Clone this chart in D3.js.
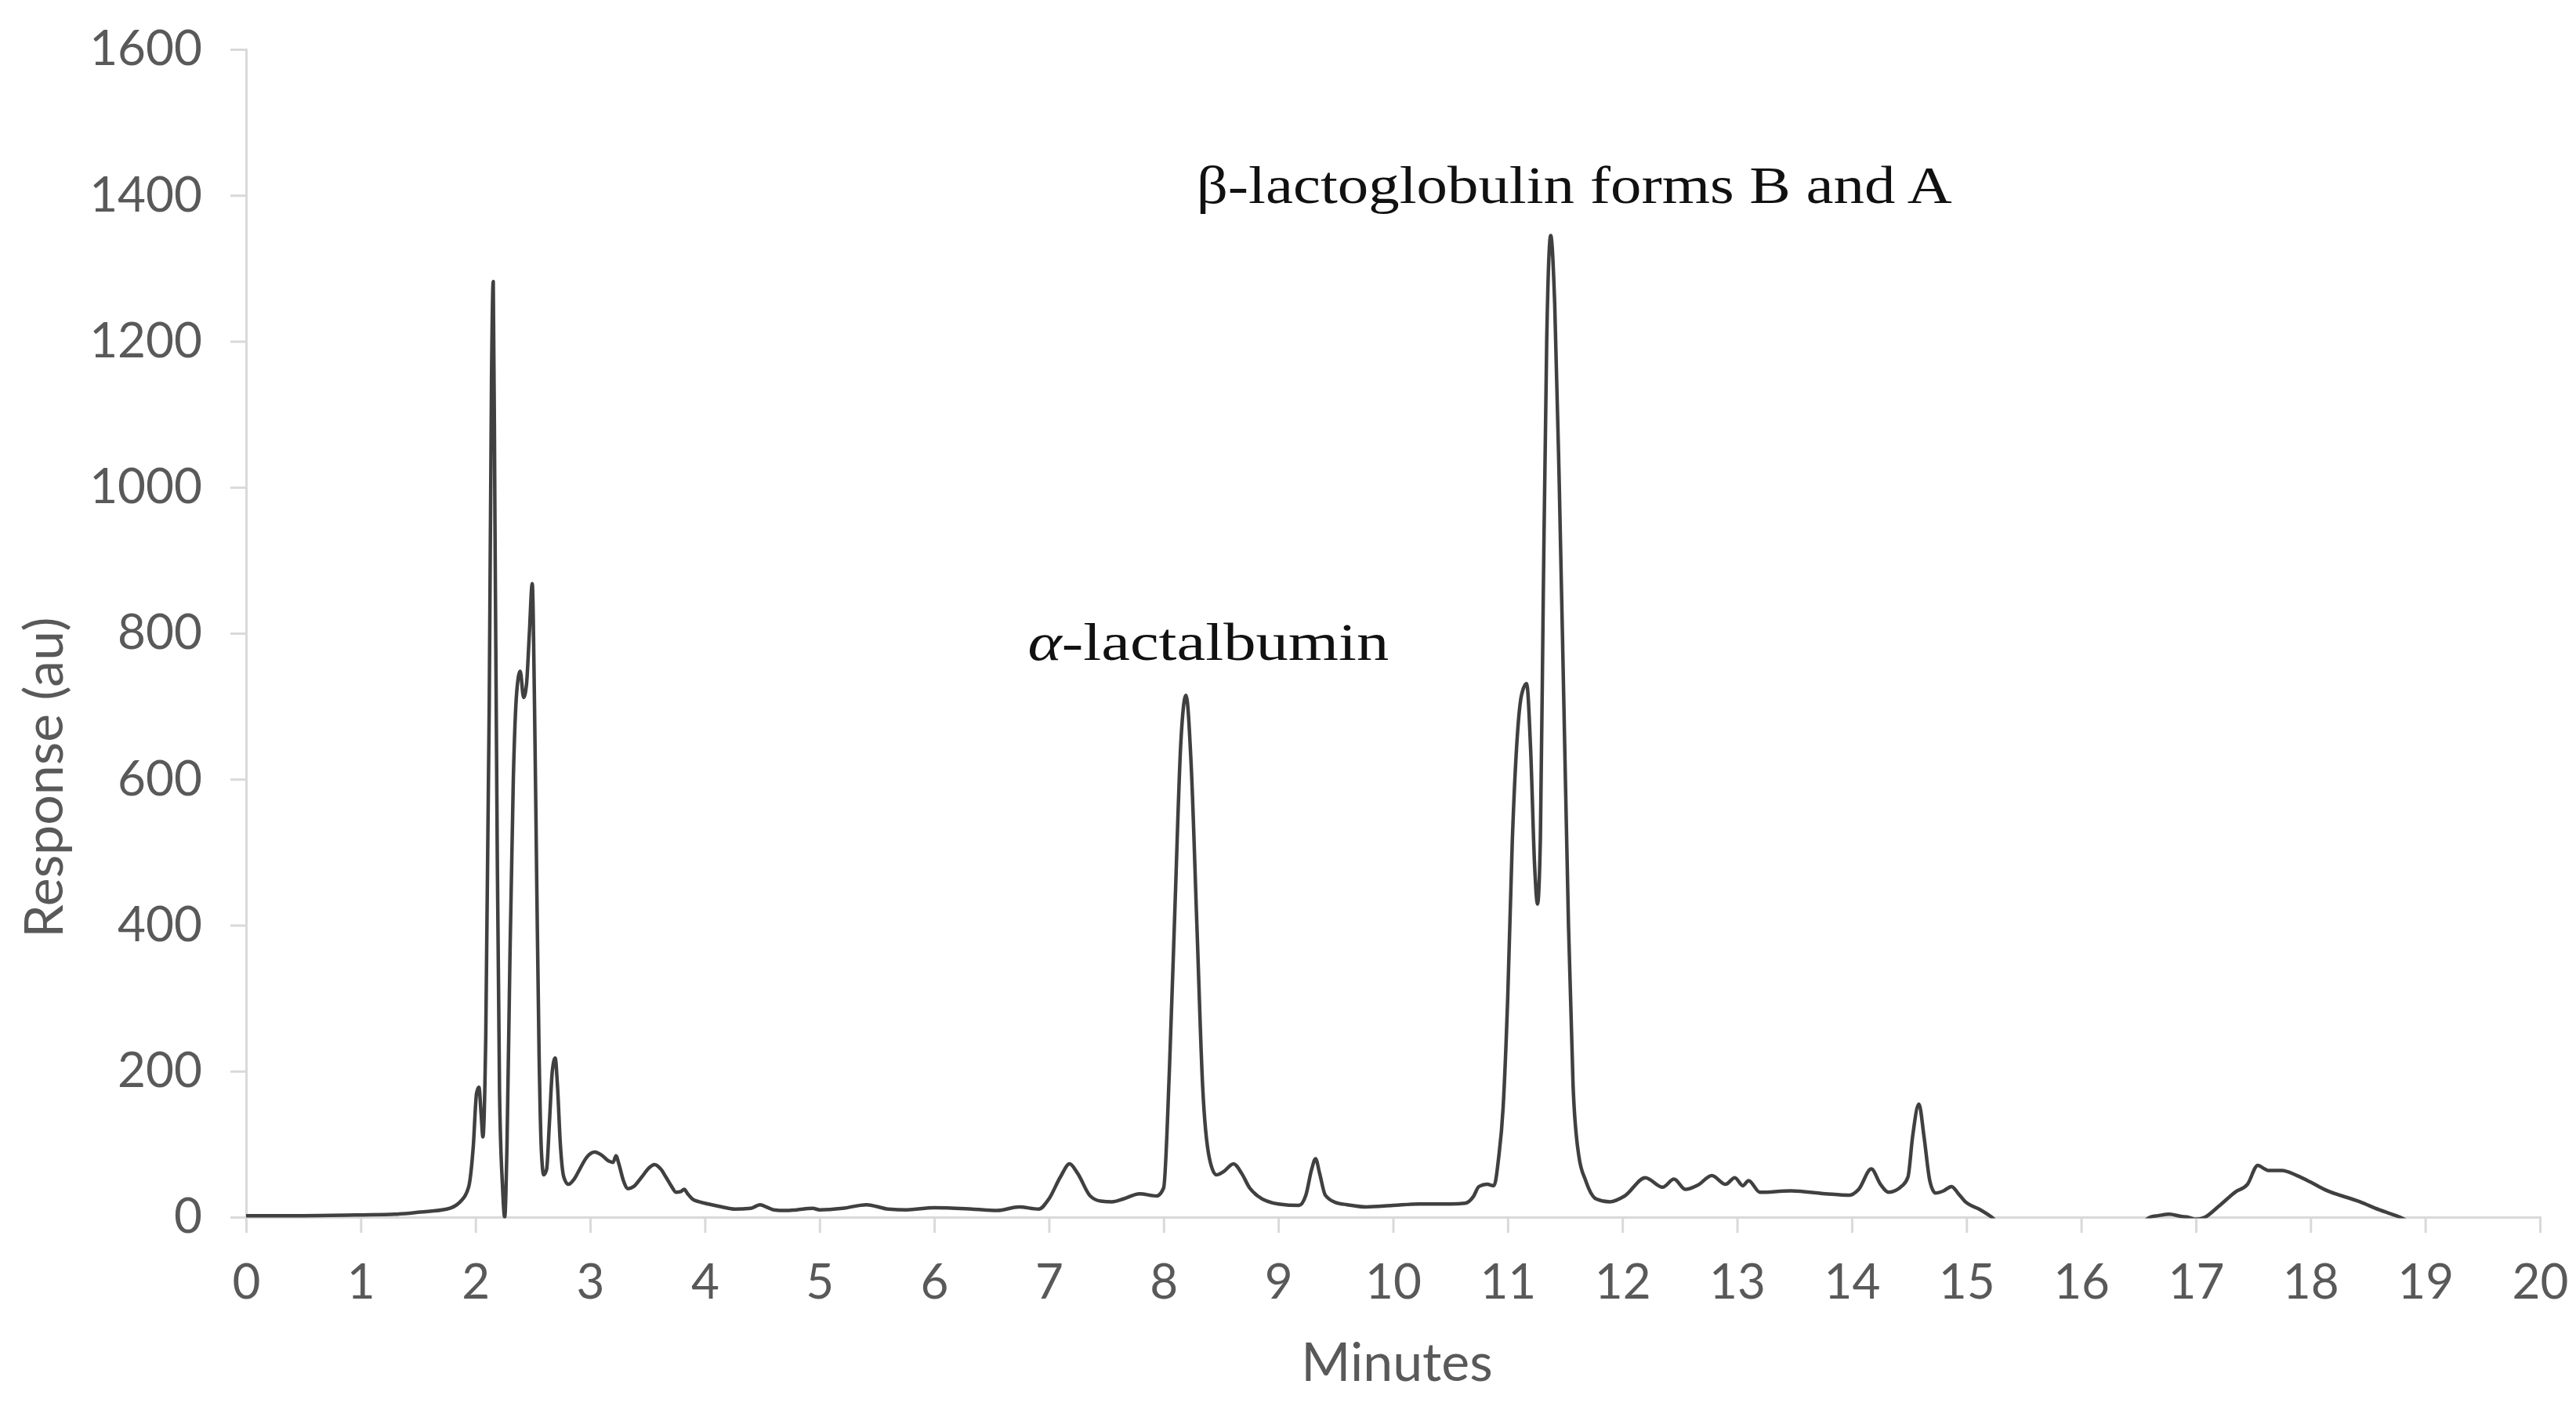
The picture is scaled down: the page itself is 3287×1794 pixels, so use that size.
<!DOCTYPE html>
<html>
<head>
<meta charset="utf-8">
<script src="https://cdn.jsdelivr.net/npm/d3@7/dist/d3.min.js"></script>
<style>
  html, body { margin: 0; padding: 0; background: #ffffff; }
  svg { display: block; }
</style>
</head>
<body>
<svg id="chart" width="3287" height="1794"></svg>
<script>
// ---- data ----
const minutes = [
  0, 0.5, 1.0, 1.3, 1.52, 1.75, 1.86, 1.94, 1.98, 2.01, 2.03, 2.05, 2.065,
  2.09, 2.12, 2.14, 2.155, 2.17, 2.19, 2.21, 2.235, 2.255, 2.275, 2.30, 2.33,
  2.36, 2.39, 2.42, 2.445, 2.47, 2.495, 2.515, 2.535, 2.555, 2.575, 2.595,
  2.62, 2.645, 2.67, 2.695, 2.715, 2.74, 2.77, 2.81, 2.86, 2.91, 2.97, 3.04,
  3.10, 3.16, 3.20, 3.225, 3.25, 3.29, 3.33, 3.38, 3.45, 3.51, 3.56, 3.62,
  3.66, 3.71, 3.75, 3.79, 3.82, 3.85, 3.89, 3.95, 4.03, 4.15, 4.26, 4.40,
  4.48, 4.55, 4.60, 4.70, 4.80, 4.94, 5.0, 5.2, 5.41, 5.6, 5.76, 6.0, 6.33,
  6.55, 6.74, 6.91, 7.0, 7.1, 7.18, 7.25, 7.36, 7.45, 7.55, 7.65, 7.79, 7.94,
  8.0, 8.05, 8.10, 8.15, 8.195, 8.24, 8.29, 8.34, 8.40, 8.46, 8.52, 8.61,
  8.68, 8.75, 8.82, 9.0, 9.18, 9.24, 9.29, 9.325, 9.36, 9.41, 9.5, 9.6, 9.77,
  10.0, 10.23, 10.5, 10.63, 10.7, 10.75, 10.82, 10.88, 10.92, 10.96, 11.0,
  11.04, 11.08, 11.12, 11.165, 11.2, 11.235, 11.26, 11.285, 11.31, 11.34,
  11.375, 11.41, 11.45, 11.49, 11.53, 11.57, 11.62, 11.68, 11.77, 11.89,
  12.02, 12.2, 12.35, 12.45, 12.55, 12.66, 12.78, 12.9, 12.98, 13.05, 13.1,
  13.2, 13.46, 13.77, 13.98, 14.06, 14.17, 14.25, 14.32, 14.44, 14.49, 14.53,
  14.585, 14.63, 14.68, 14.73, 14.8, 14.87, 14.93, 14.99, 15.11, 15.22, 15.3,
  16.5, 16.6, 16.67, 16.77, 16.87, 16.93, 17.0, 17.08, 17.2, 17.35, 17.45,
  17.54, 17.6, 17.63, 17.75, 17.88, 18.0, 18.12, 18.43, 18.6, 18.78, 18.9, 20
];
const response = [
  2, 2, 3, 4, 7, 11, 20, 41, 95, 170, 178, 140, 110,
  250, 700, 1150, 1282, 950, 500, 170, 45, 0, 100, 350, 600,
  720, 748, 712, 730, 800, 868, 700, 450, 220, 90, 58,
  65, 130, 200, 218, 180, 100, 55, 45, 52, 66, 82, 89,
  85, 77, 75, 84, 73, 50, 39, 42, 55, 67, 72, 65,
  55, 42, 34, 35, 38, 32, 25, 21, 18, 14, 11, 12,
  17, 13, 10, 9, 10, 12, 10, 12, 17, 11, 10, 13, 11,
  9, 14, 11, 25, 55, 73, 60, 29, 22, 21, 25, 32, 29,
  40, 200, 430, 650, 715, 620, 400, 180, 80, 58, 62, 73,
  60, 40, 29, 18, 16, 30, 65, 80, 60, 30, 20, 17, 14,
  16, 18, 18, 19, 28, 42, 45, 43, 80, 150, 300,
  515, 650, 715, 731, 640, 480, 429, 520, 850, 1200,
  1345, 1250, 1000, 700, 400, 180, 84, 50, 25, 21,
  29, 54, 41, 52, 38, 44, 57, 45, 54, 43, 50,
  34, 36, 32, 30, 38, 66, 45, 34, 43, 55, 110,
  155, 110, 50, 33, 36, 42, 32, 21, 11, 0, -10,
  -10, 0, 2, 4, 1, 0, -3, 0, 15, 35, 45,
  71, 66, 64, 64, 57, 48, 38, 21, 10, 0, -8, -8
];
const xTickValues = [0,1,2,3,4,5,6,7,8,9,10,11,12,13,14,15,16,17,18,19,20];
const yTickValues = [0,200,400,600,800,1000,1200,1400,1600];
const xTitle = "Minutes";
const yTitle = "Response (au)";
const annotations = [
  { italic: "α", rest: "-lactalbumin", minute: 8.39, value: 764, width: 461 },
  { italic: "", rest: "β-lactoglobulin forms B and A", minute: 11.58, value: 1390, width: 964 }
];

// ---- layout ----
const W = 3287, H = 1794;
const margin = { left: 314, right: 46, top: 63, bottom: 241 };
const svg = d3.select("#chart");
svg.append("rect").attr("width", W).attr("height", H).attr("fill", "#ffffff");

const x = d3.scaleLinear().domain([0, 20]).range([margin.left, W - margin.right]);
const y = d3.scaleLinear().domain([0, 1600]).range([H - margin.bottom, margin.top]);

const axisColor = "#d9d9d9";
const textColor = "#595959";
const tickFont = "Lato, 'Open Sans', sans-serif";

// Y axis
const yAxis = svg.append("g")
  .attr("transform", `translate(${x(0)},0)`)
  .call(d3.axisLeft(y).tickValues(yTickValues).tickSize(20).tickPadding(36).tickFormat(d3.format("d")));
yAxis.select(".domain").attr("stroke", axisColor).attr("stroke-width", 3);
yAxis.selectAll(".tick line").attr("stroke", axisColor).attr("stroke-width", 3);
yAxis.selectAll(".tick text")
  .attr("fill", textColor)
  .style("font-family", tickFont)
  .style("font-size", "62px");

// X axis
const xAxis = svg.append("g")
  .attr("transform", `translate(0,${y(0)})`)
  .call(d3.axisBottom(x).tickValues(xTickValues).tickSize(20).tickPadding(40).tickFormat(d3.format("d")));
xAxis.select(".domain").attr("stroke", axisColor).attr("stroke-width", 3);
xAxis.selectAll(".tick line").attr("stroke", axisColor).attr("stroke-width", 3);
xAxis.selectAll(".tick text")
  .attr("fill", textColor)
  .style("font-family", tickFont)
  .style("font-size", "62px");

// Axis titles
svg.append("text")
  .attr("x", (x(0) + x(20)) / 2 + 5)
  .attr("y", 1762)
  .attr("text-anchor", "middle")
  .attr("fill", textColor)
  .style("font-family", tickFont)
  .style("font-size", "68px")
  .text(xTitle);

svg.append("text")
  .attr("transform", `translate(80,992) rotate(-90)`)
  .attr("text-anchor", "middle")
  .attr("fill", textColor)
  .style("font-family", tickFont)
  .style("font-size", "68px")
  .text(yTitle);

// Clip so values below zero are hidden (as in the reference)
svg.append("clipPath").attr("id", "plotClip")
  .append("rect")
  .attr("x", x(0)).attr("y", 0)
  .attr("width", x(20) - x(0))
  .attr("height", y(0) + 1.5);

const pts = minutes.map((m, i) => [m, response[i]]);
const line = d3.line()
  .x(d => x(d[0]))
  .y(d => y(d[1]))
  .curve(d3.curveMonotoneX);

svg.append("path")
  .datum(pts)
  .attr("clip-path", "url(#plotClip)")
  .attr("fill", "none")
  .attr("stroke", "#404040")
  .attr("stroke-width", 4.5)
  .attr("stroke-linejoin", "round")
  .attr("d", line);

// Annotations
annotations.forEach(a => {
  const t = svg.append("text")
    .attr("x", 0).attr("y", 0)
    .attr("fill", "#111111")
    .style("font-family", "'Liberation Serif', 'Times New Roman', serif")
    .style("font-size", "68px");
  if (a.italic) t.append("tspan").style("font-style", "italic").text(a.italic);
  t.append("tspan").text(a.rest);
  const w = t.node().getComputedTextLength();
  const sx = a.width / w;
  t.attr("transform", `translate(${x(a.minute) - a.width / 2},${y(a.value)}) scale(${sx},1)`);
});
</script>
</body>
</html>
